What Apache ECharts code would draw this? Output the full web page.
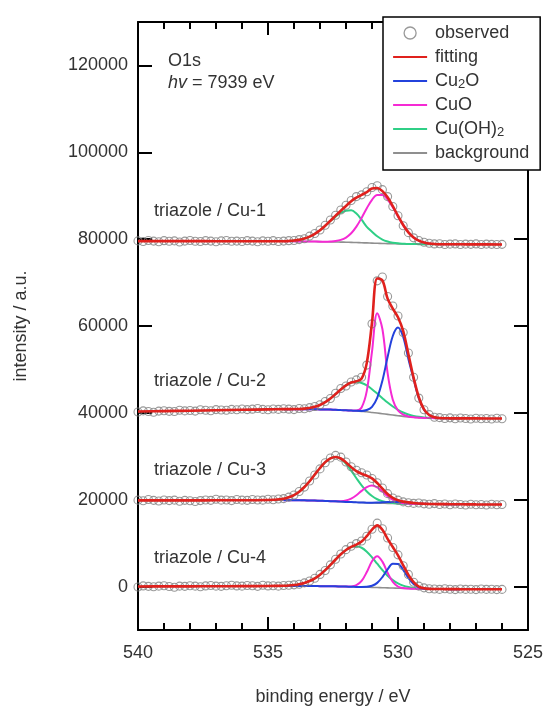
<!DOCTYPE html>
<html>
<head>
<meta charset="utf-8">
<script src="https://cdn.jsdelivr.net/npm/echarts@6/dist/echarts.min.js"></script>
<style>
html,body{margin:0;padding:0;background:#fff;}
#chart{width:544px;height:707px;}
</style>
</head>
<body>
<div id="chart"></div>
<script>
// ---------- DATA ----------
const xTicks = [525, 530, 535, 540];
const yTicks = [0, 20000, 40000, 60000, 80000, 100000, 120000];
const sampleNames = ['triazole / Cu-1', 'triazole / Cu-2', 'triazole / Cu-3', 'triazole / Cu-4'];

// binding energy of observed points
const OX = [540,539.8,539.6,539.4,539.2,539,538.8,538.6,538.4,538.2,538,537.8,537.6,537.4,537.2,537,536.8,536.6,536.4,536.2,536,535.8,535.6,535.4,535.2,535,534.8,534.6,534.4,534.2,534,533.8,533.6,533.4,533.2,533,532.8,532.6,532.4,532.2,532,531.8,531.6,531.4,531.2,531,530.8,530.6,530.4,530.2,530,529.8,529.6,529.4,529.2,529,528.8,528.6,528.4,528.2,528,527.8,527.6,527.4,527.2,527,526.8,526.6,526.4,526.2,526];
// binding energy of fitting / background curves
const FX = [540,539,538,537,536,535,534.4,534.2,534,533.8,533.6,533.4,533.2,533,532.8,532.6,532.4,532.2,532,531.8,531.6,531.4,531.2,531,530.8,530.6,530.4,530.2,530,529.8,529.6,529.4,529.2,529,528.8,528.6,528.4,528.2,528,527.8,527.6,527,526];
// binding energy of component curves
const CX = [534.4,534.2,534,533.8,533.6,533.4,533.2,533,532.8,532.6,532.4,532.2,532,531.8,531.6,531.4,531.2,531,530.8,530.6,530.4,530.2,530,529.8,529.6,529.4,529.2,529,528.8,528.6,528.4,528.2,528,527.8,527.6];

// ---- triazole / Cu-1 ----
const obs1 = [79600,79450,79700,79550,79400,79650,79500,79600,79350,79550,79700,79500,79450,79650,79550,79400,79600,79700,79500,79550,79450,79650,79550,79400,79600,79500,79650,79450,79550,79650,79700,79900,80100,80700,81300,82100,83200,84400,85500,86700,87800,88900,89800,90200,90900,91900,92300,91400,89800,87500,85400,83100,81500,80300,79700,79300,79050,78900,78950,78750,78850,78900,78750,78850,78800,78900,78750,78850,78800,78750,78800];
const fit1 = [79550,79550,79540,79530,79520,79510,79500,79590,79690,79860,80150,80590,81220,82050,83080,84230,85400,86550,87640,88740,89560,90190,90820,91660,91790,91050,89630,87590,85360,83270,81570,80390,79640,79210,79000,78890,78830,78820,78820,78810,78810,78800,78780];
const bg1 = [79550,79550,79540,79530,79520,79510,79500,79500,79490,79480,79470,79460,79440,79420,79400,79380,79350,79320,79290,79250,79210,79170,79130,79090,79050,79010,78970,78940,78910,78890,78870,78860,78850,78840,78840,78830,78830,78820,78820,78810,78810,78800,78780];
const cuoh1 = [79500,79590,79690,79860,80150,80590,81220,82050,83060,84150,85190,86050,86560,86640,85890,84470,82830,81690,80650,79910,79470,79190,79030,78940,78870,78860,78850,78840,78840,78830,78830,78820,78820,78810,78810];
const cuo1 = [79500,79500,79490,79480,79470,79460,79440,79420,79420,79460,79560,79820,80370,81350,82880,84890,87120,89060,90190,90150,89130,87340,85240,83220,81570,80390,79640,79210,79000,78890,78830,78820,78820,78810,78810];

// ---- triazole / Cu-2 ----
const obs2 = [40200,40450,40300,40150,40400,40500,40350,40300,40600,40450,40550,40400,40700,40600,40500,40750,40650,40600,40800,40700,40900,40750,40850,41000,40800,40700,40900,40800,40950,40850,40750,41000,40950,41200,41450,41850,42600,43300,44500,45600,46200,47100,47600,48200,51000,60500,70400,71300,66800,64600,62300,58500,53800,48200,43400,40700,39600,39000,38900,38700,38850,38650,38800,38700,38600,38750,38650,38700,38600,38750,38650];
const fit2 = [40300,40400,40500,40600,40700,40800,40850,40860,40880,40900,40970,41120,41380,41820,42460,43310,44320,45390,46340,46980,47260,47880,51510,60750,70940,70490,66300,64000,62000,58800,53500,48100,43600,40800,39500,38980,38800,38750,38740,38730,38730,38720,38700];
const bg2 = [40300,40400,40500,40600,40700,40800,40850,40850,40850,40840,40830,40820,40810,40800,40780,40750,40700,40650,40600,40530,40450,40350,40250,40100,39950,39800,39650,39500,39350,39200,39080,38980,38900,38840,38800,38780,38760,38750,38740,38730,38730,38720,38700];
const cuoh2 = [40850,40860,40880,40900,40970,41120,41380,41820,42460,43310,44320,45390,46340,46980,47150,46880,46310,45450,44440,43390,42370,41470,40700,40080,39630,39310,39080,38940,38850,38800,38760,38750,38740,38730,38730];
const cuo2 = [40850,40850,40850,40840,40830,40820,40810,40800,40780,40750,40700,40650,40600,40530,40550,41250,45050,54100,62950,59300,49150,43000,40550,39600,39180,38980,38900,38840,38800,38780,38760,38750,38740,38730,38730];
const cu2o2 = [40850,40850,40850,40840,40830,40820,40810,40800,40780,40750,40700,40650,40600,40530,40460,40450,40650,41400,43450,47400,52850,57700,59650,57500,52380,47780,43400,40740,39500,38980,38790,38750,38740,38730,38730];

// ---- triazole / Cu-3 ----
const obs3 = [19900,19750,20050,19850,19700,19950,19800,19900,19650,19850,19750,19600,19800,19950,19850,20100,19900,19950,19800,20050,19900,19850,20050,19950,19900,20100,20000,20150,20250,20600,21100,21900,22900,24300,25700,27100,28500,29600,30200,29800,28700,27600,26800,26200,25700,24900,23900,22700,21400,20400,19900,19500,19300,19150,19250,19050,18950,19100,18900,19000,18850,19000,18900,18800,18950,18850,18900,18800,18950,18850,18900];
const fit3 = [19850,19850,19850,19860,19880,19920,20240,20570,21080,21850,22920,24260,25790,27310,28650,29530,29850,29490,28590,27500,26570,25980,25530,24900,23840,22540,21310,20410,19870,19560,19380,19240,19140,19080,19030,19000,18990,18980,18970,18960,18950,18920,18900];
const bg3 = [19850,19850,19850,19860,19870,19880,19880,19880,19870,19860,19850,19830,19800,19760,19720,19670,19620,19560,19500,19450,19400,19350,19300,19260,19220,19190,19160,19130,19100,19080,19060,19040,19030,19020,19010,19000,18990,18980,18970,18960,18950,18920,18900];
const cuoh3 = [20240,20570,21080,21850,22920,24260,25790,27310,28650,29530,29820,29380,28260,26690,24940,23290,21890,20840,20110,19660,19390,19230,19140,19080,19060,19040,19030,19020,19010,19000,18990,18980,18970,18960,18950];
const cuo3 = [19880,19880,19870,19860,19850,19830,19800,19760,19720,19670,19650,19670,19830,20260,21030,22030,22920,23260,22840,21870,20790,19940,19430,19190,19090,19040,19030,19020,19010,19000,18990,18980,18970,18960,18950];
const cu2o3 = [19880,19880,19870,19860,19850,19830,19800,19760,19720,19670,19620,19560,19500,19450,19400,19360,19320,19320,19330,19390,19450,19500,19500,19450,19350,19240,19140,19080,19030,19000,18990,18980,18970,18960,18950];

// ---- triazole / Cu-4 ----
const obs4 = [-100,150,50,-50,100,200,0,-150,100,50,200,100,-50,150,250,100,50,200,300,150,100,250,200,50,300,150,200,100,250,300,400,550,850,1300,1900,2800,3700,5000,6300,7500,8500,9300,9900,10500,11600,13200,14600,13300,11200,9000,7300,4800,2800,1000,100,-300,-500,-550,-650,-500,-600,-700,-550,-650,-600,-700,-550,-650,-600,-700,-650];
const fit4 = [0,50,50,80,100,125,190,250,360,540,830,1280,1900,2740,3780,4980,6240,7430,8430,9150,9670,10360,11610,13110,14100,13100,11000,9100,7200,4900,2700,1000,0,-380,-530,-560,-570,-580,-590,-595,-600,-610,-620];
const bg4 = [0,50,50,80,100,120,130,130,130,130,120,120,110,100,90,70,50,20,-10,-40,-70,-100,-140,-180,-220,-260,-300,-340,-380,-420,-450,-480,-510,-530,-550,-560,-570,-580,-590,-595,-600,-610,-620];
const cuoh4 = [190,250,360,540,830,1280,1900,2740,3780,4980,6240,7430,8420,9070,9280,8940,8040,6750,5270,3810,2510,1490,730,210,-120,-310,-430,-500,-550,-560,-570,-580,-590,-595,-600];
const cuo4 = [130,130,130,130,120,120,110,100,90,70,50,20,0,40,320,1300,3340,5820,6980,5740,3180,1060,10,-340,-450,-480,-510,-530,-550,-560,-570,-580,-590,-595,-600];
const cu2o4 = [130,130,130,130,120,120,110,100,90,70,50,20,-10,-40,-70,-80,-50,180,850,2190,3950,5260,5220,3830,2000,590,-150,-440,-530,-560,-570,-580,-590,-595,-600];

// ---------- CHART ----------
const FONT = 'Liberation Sans';
const TXT = '#333';
const COLORS = {obs:'#7f7f7f', fit:'#e0211d', bg:'#8f8f8f', cuoh:'#2fcf86', cuo:'#f52ad4', cu2o:'#2342dc'};

const pair = (xs, ys) => xs.map((x, i) => [x, ys[i]]);
const lineSeries = (name, xs, ys, color, width, z) => ({
  type: 'line', name, data: pair(xs, ys), symbol: 'none', smooth: 0.35,
  lineStyle: {color, width}, itemStyle: {color}, z, silent: true
});

const spectra = [
  {obs: obs1, fit: fit1, bg: bg1, cuoh: cuoh1, cuo: cuo1, cu2o: null},
  {obs: obs2, fit: fit2, bg: bg2, cuoh: cuoh2, cuo: cuo2, cu2o: cu2o2},
  {obs: obs3, fit: fit3, bg: bg3, cuoh: cuoh3, cuo: cuo3, cu2o: cu2o3},
  {obs: obs4, fit: fit4, bg: bg4, cuoh: cuoh4, cuo: cuo4, cu2o: cu2o4}
];

const series = [];
spectra.forEach(s => {
  series.push(lineSeries('background', FX, s.bg, COLORS.bg, 1.6, 2));
  series.push(lineSeries('Cu(OH)2', CX, s.cuoh, COLORS.cuoh, 2, 3));
  series.push(lineSeries('CuO', CX, s.cuo, COLORS.cuo, 2, 3));
  if (s.cu2o) series.push(lineSeries('Cu2O', CX, s.cu2o, COLORS.cu2o, 2, 3));
  series.push({
    type: 'scatter', name: 'observed', data: pair(OX, s.obs), symbol: 'circle', symbolSize: 8,
    itemStyle: {color: 'rgba(255,255,255,0)', borderColor: COLORS.obs, borderWidth: 1.1}, z: 4, silent: true
  });
  series.push(lineSeries('fitting', FX, s.fit, COLORS.fit, 2.6, 5));
});

const axisLineStyle = {color: '#000', width: 2};
const labelStyle = {color: TXT, fontSize: 18, fontFamily: FONT};
const hiddenSymbol = {color: 'rgba(0,0,0,0)', borderColor: 'rgba(0,0,0,0)', borderWidth: 0, opacity: 0};
const legendLine = (name, color) => ({name, lineStyle: {color, width: 2.2, opacity: 1}, itemStyle: hiddenSymbol});

const option = {
  animation: false,
  backgroundColor: '#fff',
  grid: {left: 138, right: 16, top: 22, bottom: 77, outerBoundsMode: 'none', containLabel: false},
  xAxis: [
    {
      type: 'value', min: 525, max: 540, interval: 5, inverse: true, position: 'bottom',
      axisLine: {show: true, onZero: false, lineStyle: axisLineStyle},
      axisTick: {show: true, inside: true, length: 13, lineStyle: axisLineStyle},
      minorTick: {show: true, splitNumber: 5, length: 7, lineStyle: axisLineStyle},
      splitLine: {show: false}, minorSplitLine: {show: false},
      axisLabel: Object.assign({margin: 14, customValues: xTicks}, labelStyle),
      name: 'binding energy / eV', nameLocation: 'middle', nameGap: 58,
      nameTextStyle: labelStyle
    },
    {
      type: 'value', min: 525, max: 540, interval: 5, inverse: true, position: 'top',
      axisLine: {show: true, onZero: false, lineStyle: axisLineStyle},
      axisTick: {show: true, inside: true, length: 13, lineStyle: axisLineStyle},
      minorTick: {show: true, splitNumber: 5, length: 7, lineStyle: axisLineStyle},
      splitLine: {show: false}, axisLabel: {show: false}
    }
  ],
  yAxis: [
    {
      type: 'value', min: -10000, max: 130000, position: 'left',
      axisLine: {show: true, onZero: false, lineStyle: axisLineStyle},
      axisTick: {show: true, inside: true, length: 14, lineStyle: axisLineStyle, customValues: yTicks},
      splitLine: {show: false},
      axisLabel: Object.assign({margin: 10, customValues: yTicks, formatter: v => String(v)}, labelStyle),
      name: 'intensity / a.u.', nameLocation: 'middle', nameGap: 108,
      nameTextStyle: labelStyle
    },
    {
      type: 'value', min: -10000, max: 130000, position: 'right',
      axisLine: {show: true, onZero: false, lineStyle: axisLineStyle},
      axisTick: {show: true, inside: true, length: 14, lineStyle: axisLineStyle, customValues: yTicks},
      splitLine: {show: false}, axisLabel: {show: false}
    }
  ],
  legend: {
    show: true, orient: 'vertical', left: 383, top: 17,
    padding: [6, 11, 7, 9], itemGap: 4, itemWidth: 34, itemHeight: 12,
    backgroundColor: '#fff', borderColor: '#000', borderWidth: 1.5, borderRadius: 0,
    selectedMode: false,
    data: [
      {name: 'observed', icon: 'circle', itemStyle: {color: '#fff', borderColor: COLORS.obs, borderWidth: 1.3}},
      legendLine('fitting', COLORS.fit), legendLine('Cu2O', COLORS.cu2o), legendLine('CuO', COLORS.cuo),
      legendLine('Cu(OH)2', COLORS.cuoh), legendLine('background', COLORS.bg)
    ],
    formatter: n => n === 'Cu2O' ? 'Cu{s|2}O' : (n === 'Cu(OH)2' ? 'Cu(OH){s|2}' : n),
    textStyle: {
      color: TXT, fontSize: 18, fontFamily: FONT, lineHeight: 20, padding: [0, 0, 0, 3],
      rich: {s: {fontSize: 13, fontFamily: FONT, color: TXT, lineHeight: 11, verticalAlign: 'bottom'}}
    }
  },
  graphic: [
    {type: 'text', left: 168, top: 52, z: 10, style: {text: 'O1s', fill: TXT, font: '18px "Liberation Sans"'}},
    {type: 'text', left: 168, top: 74, z: 10, style: {
      text: '{i|hv} = 7939 eV', fill: TXT, font: '18px "Liberation Sans"',
      rich: {i: {fontStyle: 'italic', fontSize: 18, fontFamily: FONT, fill: TXT}}
    }},
    {type: 'text', left: 154, top: 202, z: 10, style: {text: sampleNames[0], fill: TXT, font: '18px "Liberation Sans"'}},
    {type: 'text', left: 154, top: 372, z: 10, style: {text: sampleNames[1], fill: TXT, font: '18px "Liberation Sans"'}},
    {type: 'text', left: 154, top: 461, z: 10, style: {text: sampleNames[2], fill: TXT, font: '18px "Liberation Sans"'}},
    {type: 'text', left: 154, top: 549, z: 10, style: {text: sampleNames[3], fill: TXT, font: '18px "Liberation Sans"'}}
  ],
  series
};

const chart = echarts.init(document.getElementById('chart'), null, {renderer: 'canvas'});
chart.setOption(option);
</script>
</body>
</html>
